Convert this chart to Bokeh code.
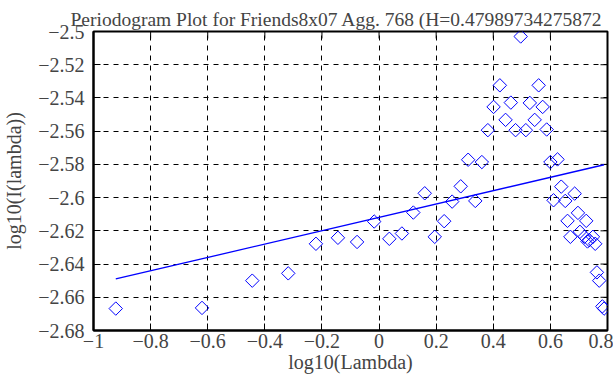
import numpy as np
from bokeh.plotting import figure
from bokeh.models import FixedTicker, CustomJSTickFormatter, Range1d
from bokeh.embed import file_html
from bokeh.resources import INLINE

# ---- data ----
log_lambda = [-0.922, -0.620, -0.444, -0.318, -0.221, -0.144, -0.077, -0.017,
              0.036, 0.080, 0.120, 0.160, 0.195, 0.228, 0.256, 0.286, 0.312,
              0.337, 0.360, 0.381, 0.401, 0.423, 0.443, 0.4615, 0.478, 0.496,
              0.514, 0.528, 0.545, 0.559, 0.573, 0.587, 0.600, 0.611, 0.625,
              0.638, 0.652, 0.660, 0.670, 0.685, 0.6965, 0.7035, 0.7195,
              0.7255, 0.730, 0.736, 0.749, 0.757, 0.763, 0.771, 0.782, 0.788]
log_I = [-2.6668, -2.6664, -2.6500, -2.6456, -2.6278, -2.6242, -2.6267, -2.6144,
         -2.6248, -2.6216, -2.6090, -2.5974, -2.6236, -2.6142, -2.6024, -2.5932,
         -2.5772, -2.6020, -2.5786, -2.5594, -2.5454, -2.5324, -2.5532, -2.5428,
         -2.5594, -2.5030, -2.5594, -2.5430, -2.5532, -2.5324, -2.5454, -2.5590,
         -2.5786, -2.6016, -2.5770, -2.5934, -2.6020, -2.6140, -2.6236, -2.5976,
         -2.6092, -2.6206, -2.6236, -2.6140, -2.6264, -2.6256, -2.6236, -2.6278,
         -2.6450, -2.6500, -2.6655, -2.6668]
H = 0.479897342758727
fit_intercept = -2.6119
x_ticks = [-1.0, -0.8, -0.6, -0.4, -0.2, 0.0, 0.2, 0.4, 0.6, 0.8]
y_ticks = [-2.68, -2.66, -2.64, -2.62, -2.60, -2.58, -2.56, -2.54, -2.52, -2.50]
# the title as far as it is visible in the reference
title_text = "Periodogram Plot for Friends8x07 Agg. 768 (H=0.47989734275872"

slope = 1.0 - 2.0 * H
fit_x = [min(log_lambda), max(log_lambda)]
fit_y = [fit_intercept + slope * v for v in fit_x]

FONT = "Liberation Serif"
BLUE = "#0000ff"

p = figure(width=613, height=385, output_backend="svg", toolbar_location=None,
           x_range=Range1d(x_ticks[0], x_ticks[-1]),
           y_range=Range1d(y_ticks[0], y_ticks[-1]),
           min_border_left=91, min_border_right=6, min_border_top=31,
           min_border_bottom=55, title=title_text)

p.title.text_font = FONT
p.title.text_font_size = "19.5px"
p.title.text_font_style = "normal"
p.title.align = "left"
p.title.vertical_align = "top"
p.title.standoff = 0
p.title.offset = -23

fmt = CustomJSTickFormatter(code="""
    const v = Math.round(tick * 100) / 100;
    return String(v).replace('-', '\u2212');
""")

for ax in (p.xaxis[0], p.yaxis[0]):
    ax.major_label_text_font = FONT
    ax.major_label_text_font_size = "20px"
    ax.axis_label_text_font = FONT
    ax.axis_label_text_font_size = "20px"
    ax.axis_label_text_font_style = "normal"
    ax.major_tick_in = 7
    ax.major_tick_out = 0
    ax.minor_tick_line_color = None
    ax.axis_line_width = 2
    ax.major_tick_line_width = 1
    ax.formatter = fmt

p.xaxis[0].ticker = FixedTicker(ticks=x_ticks)
p.yaxis[0].ticker = FixedTicker(ticks=y_ticks)
p.xaxis[0].axis_label = "log10(Lambda)"
p.yaxis[0].axis_label = "log10(I(lambda))"
p.xaxis[0].major_label_standoff = 3
p.xaxis[0].axis_label_standoff = 0
p.yaxis[0].axis_label_standoff = 10
p.yaxis[0].major_label_standoff = 9

p.xgrid.ticker = FixedTicker(ticks=x_ticks)
p.ygrid.ticker = FixedTicker(ticks=y_ticks)
for g in (p.xgrid[0], p.ygrid[0]):
    g.grid_line_color = "black"
    g.grid_line_dash = "5 5"
    g.grid_line_width = 1
    g.grid_line_alpha = 1.0

p.outline_line_color = "black"
p.outline_line_width = 2
p.background_fill_color = "white"
p.border_fill_color = "white"

# inward tick marks on the top and right frame edges
p.ray(x=x_ticks, y=[y_ticks[-1]] * len(x_ticks), length=7, length_units="screen",
      angle=-np.pi / 2, line_color="black", line_width=1)
p.ray(x=[x_ticks[-1]] * len(y_ticks), y=y_ticks, length=7, length_units="screen",
      angle=np.pi, line_color="black", line_width=1)

p.line(fit_x, fit_y, line_color=BLUE, line_width=1.3)
p.scatter(log_lambda, log_I, marker="square", angle=np.pi / 4, size=9.5,
          fill_color=None, line_color=BLUE, line_width=1)

open("out.html", "w").write(file_html(p, INLINE))
